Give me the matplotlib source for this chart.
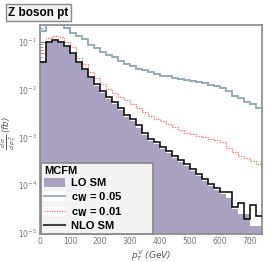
import numpy as np
from matplotlib import pyplot as plt
from matplotlib.patches import Patch
from matplotlib.lines import Line2D

# bin edges in GeV (20 GeV bins)
edges = np.arange(0, 760, 20)

lo_sm = [3.9e-2, 9.6e-2, 1.05e-1, 9.6e-2, 7.8e-2, 5.6e-2, 3.6e-2, 2.6e-2, 1.75e-2, 1.2e-2,
         8.5e-3, 6.5e-3, 5.1e-3, 3.8e-3, 2.7e-3, 2.2e-3, 1.6e-3, 1.15e-3, 8.6e-4, 7.2e-4,
         5.7e-4, 4.7e-4, 3.8e-4, 3.1e-4, 2.5e-4, 2.0e-4, 1.55e-4, 1.25e-4, 9.7e-5, 8.1e-5,
         6.5e-5, 5.4e-5, 3.2e-5, 2.5e-5, 2.5e-5, 1.4e-5, 1.4e-5]
nlo_sm = [3.9e-2, 1.0e-1, 1.1e-1, 1.0e-1, 8.3e-2, 6.0e-2, 3.9e-2, 2.8e-2, 1.9e-2, 1.3e-2,
          9.3e-3, 7.1e-3, 5.6e-3, 4.2e-3, 3.0e-3, 2.4e-3, 1.8e-3, 1.26e-3, 9.5e-4, 7.9e-4,
          6.3e-4, 5.2e-4, 4.2e-4, 3.4e-4, 2.8e-4, 2.2e-4, 1.7e-4, 1.38e-4, 1.07e-4, 8.9e-5,
          7.2e-5, 7.2e-5, 3.5e-5, 4.2e-5, 1.95e-5, 3.8e-5, 2.3e-5]
cw_001 = [6.0e-2, 1.2e-1, 1.35e-1, 1.26e-1, 1.0e-1, 7.9e-2, 4.7e-2, 3.5e-2, 2.4e-2, 1.74e-2,
          1.35e-2, 1.07e-2, 8.7e-3, 7.2e-3, 6.0e-3, 5.0e-3, 4.2e-3, 3.5e-3, 2.9e-3, 2.5e-3,
          2.2e-3, 1.95e-3, 1.66e-3, 1.41e-3, 1.26e-3, 1.17e-3, 1.10e-3, 1.02e-3, 9.5e-4, 8.9e-4,
          7.9e-4, 6.0e-4, 5.0e-4, 4.2e-4, 3.8e-4, 3.2e-4, 2.75e-4]
cw_005 = [0.17, 0.28, 0.30, 0.26, 0.195, 0.16, 0.135, 0.115, 0.089, 0.076,
          0.063, 0.054, 0.048, 0.040, 0.035, 0.031, 0.028, 0.026, 0.024, 0.022,
          0.020, 0.0195, 0.018, 0.017, 0.016, 0.0155, 0.0145, 0.0138, 0.0129, 0.012,
          0.0112, 0.0093, 0.0076, 0.0068, 0.0056, 0.0050, 0.0042]

fill_col = '#a9a3c1'
cw5_col = '#8ea6ae'
cw1_col = '#ff6b6b'
frame_col = '#888888'
label_col = '#777777'

fig = plt.figure(figsize=(2.76, 2.62), dpi=100)
ax = fig.add_axes([40 / 276, 28 / 262, 222 / 276, 209 / 262])
ax.set_axisbelow(True)

ax.stairs(lo_sm, edges, fill=True, baseline=1e-7, color=fill_col, zorder=2)
ax.stairs(cw_005, edges, color=cw5_col, linewidth=1.3, baseline=None, zorder=3)
ax.stairs(cw_001, edges, color=cw1_col, linewidth=0.9, linestyle=(0, (1, 1)),
          baseline=None, zorder=3)
ax.stairs(nlo_sm, edges, color='black', linewidth=1.1, baseline=None, zorder=4)

ax.set_yscale('log')
ax.set_xlim(0, 740)
ax.set_ylim(9.5e-6, 0.23)

ax.tick_params(axis='both', which='both', direction='in', colors=frame_col,
               labelcolor=label_col, labelsize=5.5, pad=2)
ax.tick_params(axis='both', which='major', length=5)
ax.tick_params(axis='both', which='minor', length=2.5)
ax.set_xticks(range(0, 800, 100))
for s in ax.spines.values():
    s.set_color(frame_col)
    s.set_linewidth(1.2)

ax.set_xlabel(r'$p_T^V$ (GeV)', fontsize=6.5, style='italic', color='#555555')
ax.xaxis.set_label_coords(0.5, -0.065)
ax.set_ylabel(r'$\frac{d\ \sigma}{d\ p_T^Z}$ (fb)', fontsize=6.3, style='italic',
              color='#555555')
ax.yaxis.label.set_va('center')
ax.yaxis.set_label_coords(-0.138, 0.48)

handles = [
    Patch(facecolor=fill_col, edgecolor='none'),
    (Patch(facecolor='white', edgecolor='none'), Line2D([], [], color=cw5_col, lw=1.2)),
    (Patch(facecolor='white', edgecolor='none'), Line2D([], [], color=cw1_col, lw=0.9, ls=(0, (1, 1)))),
    Line2D([], [], color='#444444', lw=1.5),
]
labels = ['LO SM', r'c$_\mathbf{W}$ = 0.05', r'c$_\mathbf{W}$ = 0.01', 'NLO SM']
leg = ax.legend(handles, labels, title='MCFM', loc='lower left',
                bbox_to_anchor=(0.005, 0.0, 0.505, 0.325), mode='expand',
                prop={'family': 'Liberation Sans', 'weight': 'bold', 'size': 8},
                title_fontproperties={'family': 'Liberation Sans', 'weight': 'bold', 'size': 8},
                alignment='left', handlelength=1.9, handleheight=0.9, handletextpad=0.5,
                labelspacing=0.15, borderpad=0.25, borderaxespad=0,
                fancybox=False, framealpha=1, facecolor='#f3f3f3', edgecolor=frame_col)
leg.get_frame().set_linewidth(1.2)
leg.set_zorder(10)

fig.text(0.03, 0.975, 'Z boson pt', fontsize=8.5, family='Liberation Sans', weight='bold',
         va='top', ha='left',
         bbox=dict(facecolor='#f3f3f3', edgecolor=frame_col, linewidth=1.0, pad=1.5))

fig.savefig('out.png', dpi=100)
